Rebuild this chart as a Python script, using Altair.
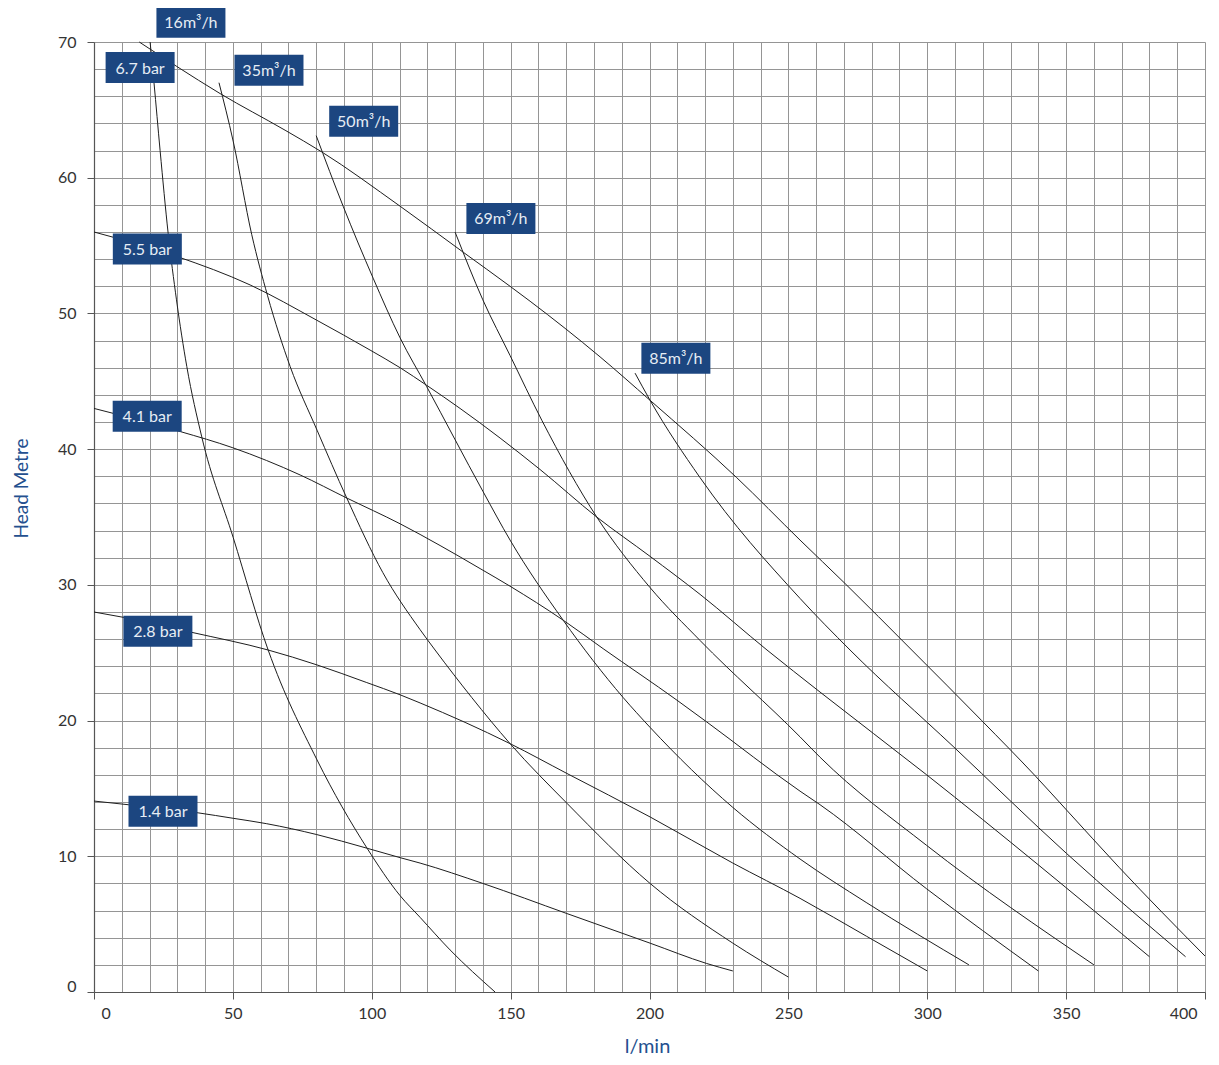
import altair as alt
import pandas as pd

# ---------------- data ----------------
# pressure curves (bar)
bar67_x = [16.3, 29.8, 45.4, 68.8, 82.0, 110.2, 133.0, 149.8, 157.0, 182.2, 200.2, 231.4, 254.2, 270.4, 294.4, 319.6, 339.0, 350.2, 369.0, 400.0]
bar67_y = [70.0, 68.2, 66.2, 63.5, 61.9, 57.9, 54.5, 52.0, 50.9, 46.8, 43.6, 37.9, 33.3, 30.1, 25.2, 20.0, 15.9, 13.4, 9.2, 2.65]

bar55_x = [0, 29.8, 56.2, 80.2, 99.4, 110.2, 119.8, 131.8, 160.6, 181.0, 200.2, 218.2, 242.3, 261.4, 299.8, 380.0]
bar55_y = [56.0, 54.2, 52.1, 49.5, 47.3, 46.0, 44.7, 43.0, 38.5, 35.0, 32.1, 29.3, 25.2, 22.1, 16.0, 2.6]

bar41_x = [0, 31.0, 50.0, 74.2, 91.0, 110.2, 124.6, 139.0, 149.8, 168.9, 183.3, 209.9, 220.6, 254.2, 261.4, 299.8, 340.0]
bar41_y = [43.0, 41.3, 40.1, 38.1, 36.4, 34.5, 32.9, 31.2, 29.9, 27.4, 25.3, 21.5, 19.9, 14.8, 13.8, 7.6, 1.55]

bar28_x = [0, 10.8, 35.2, 62.7, 80.3, 98.2, 110.2, 117.4, 149.8, 170.3, 200.2, 230.0, 254.2, 278.2, 300.0]
bar28_y = [28.0, 27.6, 26.5, 25.2, 24.1, 22.8, 21.9, 21.3, 18.3, 16.1, 12.9, 9.5, 6.9, 4.1, 1.55]

bar14_x = [0, 12.3, 37.5, 50.1, 62.2, 80.2, 98.2, 110.2, 117.4, 140.0, 170.0, 200.2, 220.6, 230.0]
bar14_y = [14.07, 13.8, 13.2, 12.8, 12.4, 11.6, 10.6, 9.9, 9.5, 8.0, 5.8, 3.6, 2.1, 1.55]

# flow curves (m3/h)
f16_x = [20.2, 21.6, 23.8, 26.7, 29.7, 33.4, 38.8, 50.1, 62.7, 80.3, 98.3, 110.2, 117.4, 128.2, 144.4]
f16_y = [70.0, 67.0, 62.0, 55.9, 51.0, 46.1, 40.9, 33.5, 25.2, 17.1, 10.6, 7.1, 5.5, 3.1, 0.0]

f35_x = [45.0, 50.1, 56.8, 62.5, 70.6, 80.3, 91.0, 104.0, 117.4, 122.8, 136.0, 149.8, 170.3, 200.2, 230.0, 250.0]
f35_y = [67.0, 62.7, 55.8, 51.3, 46.1, 41.4, 36.4, 30.9, 26.7, 25.2, 21.7, 18.3, 13.9, 8.0, 3.6, 1.1]

f50_x = [80.0, 89.7, 100.5, 110.2, 119.8, 140.0, 149.8, 168.9, 190.5, 200.2, 230.0, 254.2, 278.0, 315.0]
f50_y = [63.1, 57.9, 52.6, 48.2, 44.6, 36.9, 33.3, 27.4, 21.7, 19.5, 13.6, 9.8, 6.6, 2.0]

f69_x = [130.0, 140.0, 149.8, 161.3, 181.0, 200.2, 218.2, 254.2, 261.4, 299.8, 360.0]
f69_y = [56.0, 51.0, 46.9, 42.1, 35.0, 29.8, 25.9, 18.8, 17.3, 10.8, 2.0]

f85_x = [194.8, 200.2, 218.2, 254.2, 272.2, 309.3, 350.2, 393.0]
f85_y = [45.6, 43.6, 37.9, 29.0, 25.2, 18.1, 10.2, 2.6]

# labels
label_text = ["16m³/h", "6.7 bar", "35m³/h", "50m³/h", "69m³/h", "5.5 bar", "4.1 bar", "85m³/h", "2.8 bar", "1.4 bar"]
label_x = [34.9, 16.6, 63.0, 97.1, 146.5, 19.2, 19.15, 209.5, 23.0, 24.84]
label_y = [71.46, 68.12, 67.92, 64.16, 57.0, 54.74, 42.42, 46.69, 26.58, 13.31]

x_ticks = list(range(0, 401, 10))
y_ticks = list(range(0, 71, 2))

# ---------------- build tables ----------------
curves = {
    "6.7 bar": (bar67_x, bar67_y), "5.5 bar": (bar55_x, bar55_y),
    "4.1 bar": (bar41_x, bar41_y), "2.8 bar": (bar28_x, bar28_y),
    "1.4 bar": (bar14_x, bar14_y), "16": (f16_x, f16_y), "35": (f35_x, f35_y),
    "50": (f50_x, f50_y), "69": (f69_x, f69_y), "85": (f85_x, f85_y),
}
rows = []
for name, (xs, ys) in curves.items():
    for x, y in zip(xs, ys):
        rows.append({"curve": name, "x": x, "y": y})
df = pd.DataFrame(rows)
lab = pd.DataFrame({"t": label_text, "x": label_x, "y": label_y})

W, H = 1111, 950
FONT = "Lato"
BLUE_T = "#24508f"

xscale = alt.Scale(domain=[0, 400], nice=False, zero=False)
yscale = alt.Scale(domain=[0, 70], nice=False, zero=False)

xaxis = alt.Axis(
    values=x_ticks,
    labelExpr="datum.value % 50 === 0 ? datum.label : ''",
    grid=True, gridColor="#959595", gridWidth=1,
    tickSize=7, tickColor="#555555", tickWidth=1,
    tickOpacity={"condition": {"test": "datum.value % 50 === 0", "value": 1}, "value": 0},
    domainColor="#555555", domainWidth=1.2,
    labelFont=FONT, labelFontSize=16, labelColor="#333333", labelPadding=6,
    labelOverlap=False,
    labelOffset={"condition": [{"test": "datum.value === 0", "value": 7},
                               {"test": "datum.value === 400", "value": -8}], "value": 0},
    title="l/min", titleFont=FONT, titleFontSize=20, titleFontWeight="normal",
    titleColor=BLUE_T, titleX=553, titleY=60, titleBaseline="alphabetic", titleAlign="center",
)
yaxis = alt.Axis(
    values=y_ticks,
    labelExpr="datum.value % 10 === 0 ? datum.label : ''",
    grid=True, gridColor="#959595", gridWidth=1,
    tickSize=7, tickColor="#555555", tickWidth=1,
    tickOpacity={"condition": {"test": "datum.value % 10 === 0", "value": 1}, "value": 0},
    domainColor="#555555", domainWidth=1.2,
    labelFont=FONT, labelFontSize=16, labelColor="#333333", labelPadding=11,
    labelOverlap=False,
    labelOffset={"condition": {"test": "datum.value === 0", "value": -6}, "value": 0},
    title="Head Metre", titleFont=FONT, titleFontSize=19, titleFontWeight="normal",
    titleColor=BLUE_T, titleX=-67, titleY=446, titleAngle=-90,
    titleBaseline="alphabetic", titleAlign="center",
)

X = alt.X("x:Q", scale=xscale, axis=xaxis)
Y = alt.Y("y:Q", scale=yscale, axis=yaxis)

lines = alt.Chart(df).mark_line(color="#1e1e1e", strokeWidth=1, interpolate="monotone").encode(
    x=X, y=Y, detail="curve:N",
)

boxes = alt.Chart(lab).mark_point(
    shape="M-1,-0.449L1,-0.449L1,0.449L-1,0.449Z",
    filled=True, fill="#1c4680", opacity=1, strokeWidth=0, size=69 * 69,
).encode(x=X, y=Y)

texts = alt.Chart(lab).mark_text(
    font=FONT, fontSize=16, color="#e6edf5", align="center", baseline="middle", dy=1,
).encode(x=X, y=Y, text="t:N")

chart = alt.layer(lines, boxes, texts).properties(
    width=W, height=H,
    autosize=alt.AutoSizeParams(type="none"),
    padding={"left": 86, "top": 34, "right": 6, "bottom": 64},
).configure_view(stroke=None)

chart.save("out.html", embed_options={"renderer": "svg", "actions": False})
